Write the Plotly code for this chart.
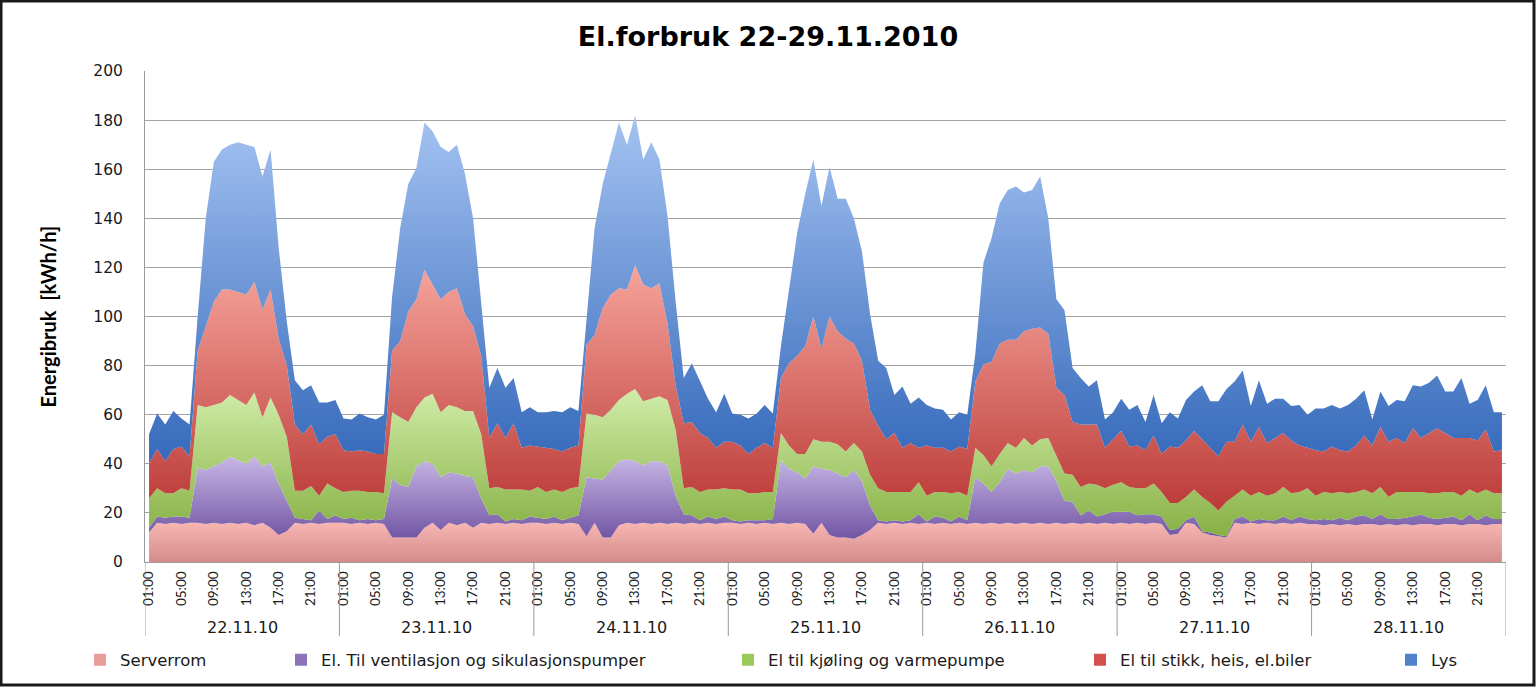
import numpy as np
import plotly.graph_objects as go

# ---------------- data ----------------
days = ["22.11.10", "23.11.10", "24.11.10", "25.11.10", "26.11.10", "27.11.10", "28.11.10"]
tick_hours = ["01:00", "05:00", "09:00", "13:00", "17:00", "21:00"]
series_names = ["Serverrom", "El. Til ventilasjon og sikulasjonspumper",
                "El til kjøling og varmepumpe", "El til stikk, heis, el.biler", "Lys"]

serverrom = [
    12, 16, 15.5, 16, 15.5, 16, 16, 15.5, 16, 15.5, 16, 15.5, 16, 15, 16, 14, 11, 12.5, 16, 15.5, 16, 15.5, 16, 16,
    16, 15.5, 16, 15.5, 16, 15.5, 10, 10, 10, 10, 14, 16, 13, 16, 15, 16, 14, 16, 15.5, 16, 15.5, 16, 15.5, 16,
    16, 15.5, 16, 15.5, 16, 15.5, 10.5, 16, 10, 10, 15, 16, 15.5, 16, 15.5, 16, 15.5, 16, 15.5, 16, 15.5, 16, 15.5, 16,
    16, 15.5, 16, 15.5, 16, 15.5, 16, 15.5, 16, 15.5, 11.5, 16, 11, 10, 10, 9.5, 11, 13, 16, 15.5, 16, 15.5, 16, 15.5,
    16, 15.5, 16, 15.5, 16, 15.5, 16, 15.5, 16, 15.5, 16, 15.5, 16, 15.5, 16, 15.5, 16, 15.5, 16, 15.5, 16, 15.5, 16, 15.5,
    16, 15.5, 16, 15.5, 16, 15.5, 11, 11.5, 16, 15.5, 12, 11, 10.5, 10, 16, 15.5, 16, 15.5, 16, 15.5, 16, 15.5, 16, 15.5,
    15.5, 15, 15.5, 15, 15.5, 15, 15.5, 15.5, 15, 15.5, 15, 15.5, 15, 15.5, 15.5, 15, 15.5, 15.5, 15, 15.5, 15.5, 15, 15.5, 15.5,
]
ventilasjon = [
    2, 2.5, 2.5, 2.5, 3, 2, 22.5, 22, 23, 25, 27, 26, 24, 28, 23, 26.5, 21, 12.5, 2, 2, 1, 5.5, 1.5, 3,
    1.5, 2.5, 1, 2, 1, 2, 24, 21.5, 20.5, 29, 27, 24, 21.5, 20.5, 21, 19, 20.5, 10, 3.5, 3.5, 1, 1.5, 1.5, 2.5,
    2, 2, 2.5, 1.5, 2, 3.5, 24, 18, 23.5, 27.5, 26, 26, 25.5, 23.5, 25.5, 25, 24, 11, 4, 3, 1.5, 2.5, 2, 2.5,
    1, 1, 1, 1.5, 1, 2, 25.5, 22.5, 20.5, 18.5, 27.5, 22, 26.5, 26, 24.5, 28, 22, 10, 1, 1, 1, 1, 1, 4,
    0.5, 3, 2, 1, 2.5, 1.5, 18.5, 16.5, 12.5, 17, 22, 20.5, 21.5, 21, 23, 23.5, 17, 9.5, 8.5, 3.5, 5, 3, 3.5, 5,
    4.5, 5, 3, 4, 3.5, 3, 2, 2, 1, 3, 0.5, 1, 0.5, 0.5, 1.5, 3, 0.5, 2, 1, 1.5, 2.5, 1.5, 2.5, 2,
    1.5, 2.5, 1.5, 3, 1.5, 3.5, 3.5, 2, 4.5, 2, 2.5, 2.5, 3.5, 4, 2.5, 2.5, 2.5, 3, 2, 4, 1.5, 4, 2, 2,
]
kjoling = [
    12, 11.5, 10, 9.5, 11.5, 11, 25.5, 25.5, 25, 24.5, 25, 24.5, 24, 26, 20, 26.5, 28, 26, 11, 11.5, 14, 6, 14.5, 11,
    11, 11, 12, 11, 11.5, 10.5, 27, 27.5, 26.5, 24, 26, 28.5, 26.5, 27.5, 27, 26.5, 27, 26, 11, 11, 13, 12, 12.5, 10.5,
    12.5, 11, 11, 11.5, 12, 11.5, 26, 26, 25.5, 24.5, 25, 26.5, 29.5, 26, 25.5, 26.5, 26.5, 27, 10.5, 11.5, 11.5, 11, 12, 11.5,
    12.5, 13, 11, 11, 11.5, 11, 11, 9.5, 7.5, 10, 11, 11, 11.5, 12, 10.5, 11, 12, 12.5, 13, 12, 11.5, 12, 11.5, 13,
    10.5, 10, 10.5, 11.5, 10, 10, 12, 11.5, 10.5, 11.5, 10.5, 10.5, 13, 11, 11, 11.5, 10.5, 11, 11, 11.5, 11, 13, 10.5, 11,
    12, 10, 11, 10.5, 12.5, 10, 11, 10.5, 9.5, 11, 14, 12, 10, 14, 9.5, 11, 10.5, 11, 10, 11, 12, 11, 10, 12.5,
    10, 11, 11, 10.5, 11, 10, 10.5, 10.5, 11, 9, 11, 10.5, 10, 9, 10, 10.5, 10.5, 10, 10, 10, 11, 10.5, 10.5, 10.5,
]
stikk = [
    14, 16, 13, 18, 17, 14, 22, 33, 42, 46, 43, 44, 45, 45, 44, 44, 31, 29, 27, 23, 25, 21, 19, 22,
    17, 16, 16.5, 16.5, 15.5, 16, 25, 31, 45, 44, 52, 44.5, 46, 46, 48.5, 39.5, 34.5, 32, 20.5, 26, 21, 27, 17, 18.5,
    16.5, 18, 16.5, 16.5, 16.5, 17, 28, 32.5, 44.5, 47, 45.5, 42.5, 50.5, 47.5, 45, 46, 31, 18, 26.5, 26.5, 24, 21, 17, 19,
    19.5, 18, 16, 18.5, 20, 18, 22.5, 33.5, 40, 44, 50, 38, 51, 46, 46, 40.5, 37, 26.5, 25.5, 21.5, 24, 18, 20, 14,
    20.5, 18, 18, 17, 18.5, 19, 27, 37, 42.5, 45, 42, 44, 43.5, 47.5, 45.5, 42.5, 27.5, 32, 21.5, 25.5, 24, 24.5, 16.5, 18.5,
    21, 16.5, 17.5, 15.5, 19.5, 15.5, 23, 22.5, 23, 24, 23.5, 22.5, 22, 24.5, 22, 26.5, 22, 26.5, 21.5, 22.5, 22, 21.5, 19, 16.5,
    18.5, 16.5, 19, 17, 17, 19, 22, 19.5, 24.5, 22.5, 22, 20, 26, 22, 24.5, 26.5, 24, 22, 23.5, 21, 21.5, 24.5, 17, 17.5,
]
lys = [
    12, 14.5, 15, 15.5, 11.5, 13, 14, 44, 57, 57, 59, 61, 61, 55, 54, 57, 37, 18, 18, 18, 16, 17, 14, 14,
    13, 13, 15, 14, 14, 16, 22, 46, 52, 53.5, 60, 62.5, 62, 57, 58.5, 57, 44, 23, 20.5, 22.5, 20.5, 18.5, 14.5, 15.5,
    14, 14.5, 15.5, 16, 16.5, 14, 11.5, 43.5, 50.5, 58, 67.5, 59, 61, 51, 59.5, 50.5, 44, 34, 18.5, 24, 21, 16, 14.5, 19.5,
    11.5, 12.5, 14.5, 14, 15.5, 14, 13, 31, 50, 62, 64, 58, 61, 54, 57, 51, 44.5, 39, 26.5, 29, 15.5, 25, 16, 20.5,
    16.5, 16, 15.5, 13, 14, 14, 11.5, 41.5, 50.5, 57, 61, 62.5, 56.5, 56.5, 61.5, 47, 36, 34.5, 22, 19, 15.5, 18, 11.5, 11,
    13, 15, 16.5, 11.5, 16.5, 12.5, 14, 12, 16.5, 16, 22, 19, 22.5, 21.5, 24.5, 22, 14.5, 19, 16, 16, 14, 14, 16.5, 13.5,
    17, 17.5, 17, 17, 19, 19, 18.5, 10.5, 14.5, 14.5, 15.5, 17, 17.5, 21, 20.5, 21.5, 17, 19, 24.5, 14, 16.5, 18, 16, 15.5,
]

# ---------------- styling ----------------
# (bottom colour, top colour) of each vertical gradient
grad_colors = [
    ("#D48C8A", "#F7B6B3"),
    ("#7155A3", "#C7B7E6"),
    ("#86B044", "#D0EDA9"),
    ("#BB3A37", "#F6A49C"),
    ("#3569BA", "#A5C3F2"),
]
legend_colors = ["#E99D9B", "#8B72B9", "#9CC95B", "#D6504C", "#4F82C9"]
legend_px = [80, 281, 728, 1080, 1391]   # left edge of each legend block (px)

FONT = "Lato"
WIDE = "DejaVu Sans"
W, H = 1536, 687
PL, PR, PT, PB = 145, 1506, 71, 562
pw, ph = PR - PL, PB - PT


def px_x(px):
    return (px - PL) / pw


def px_y(py):
    return (PB - py) / ph


series = [serverrom, ventilasjon, kjoling, stikk, lys]
n = len(serverrom)
x = np.arange(n)
cum = np.cumsum(np.array(series, dtype=float), axis=0)

fig = go.Figure()
lower = np.zeros(n)
for i, (name, vals) in enumerate(zip(series_names, series)):
    top = cum[i]
    fig.add_trace(go.Scatter(
        x=x, y=vals, name=name, stackgroup="one", mode="lines",
        line=dict(width=0), showlegend=False,
        fillcolor=grad_colors[i][0],
        fillgradient=dict(type="vertical",
                          colorscale=[[0, grad_colors[i][0]], [1, grad_colors[i][1]]],
                          start=float(lower.min()), stop=float(top.max())),
        hoverinfo="x+y+name",
    ))
    lower = top

# legend entries (square markers, like the original)
for i, name in enumerate(series_names):
    lg = "legend" if i == 0 else f"legend{i + 1}"
    fig.add_trace(go.Scatter(
        x=[None], y=[None], mode="markers", name=name,
        marker=dict(symbol="square", size=9, color=legend_colors[i]),
        legend=lg, showlegend=True,
    ))

legends = {}
for i in range(len(series_names)):
    lg = "legend" if i == 0 else f"legend{i + 1}"
    legends[lg] = dict(
        xref="container", yref="container",
        x=legend_px[i] / W, xanchor="left", y=1 - 660 / H, yanchor="middle",
        orientation="h", bgcolor="rgba(0,0,0,0)", borderwidth=0,
        font=dict(family=WIDE, size=16.5, color="#1a1a1a"),
        itemsizing="constant",
    )

tickvals = [d * 24 + j * 4 for d in range(len(days)) for j in range(len(tick_hours))]
ticktext = [tick_hours[j] for d in range(len(days)) for j in range(len(tick_hours))]

annotations = [
    dict(text="Energibruk  [kWh/h]", xref="paper", yref="paper", x=px_x(47), y=0.5,
         textangle=-90, showarrow=False, xanchor="center", yanchor="middle",
         font=dict(family=FONT, size=20, color="#000000", weight="bold")),
]
for d, lab in enumerate(days):
    annotations.append(dict(text=lab, xref="x", yref="paper", x=d * 24 + 11.5, y=px_y(627),
                            showarrow=False, xanchor="center", yanchor="middle",
                            font=dict(family=WIDE, size=16, color="#1a1a1a")))

shapes = []
for d in range(len(days) + 1):
    shapes.append(dict(type="line", xref="x", yref="paper", x0=d * 24 - 0.5, x1=d * 24 - 0.5,
                       y0=0, y1=px_y(636), line=dict(color="#9A9A9A", width=1)))
# outer frame of the picture
shapes.append(dict(type="rect", xref="paper", yref="paper",
                   x0=px_x(1), x1=px_x(W - 2), y0=px_y(H - 2), y1=px_y(1),
                   line=dict(color="#1a1a1a", width=3), fillcolor="rgba(0,0,0,0)", layer="above"))

fig.update_layout(
    width=W, height=H, autosize=False,
    margin=dict(l=PL, r=W - PR, t=PT, b=H - PB, autoexpand=False),
    paper_bgcolor="white", plot_bgcolor="white",
    title=dict(text="<b>El.forbruk 22-29.11.2010</b>", x=0.5, xref="container", xanchor="center",
               y=1 - 37 / H, yref="container", yanchor="middle",
               font=dict(family=WIDE, size=27, color="#000000")),
    xaxis=dict(range=[-0.5, n - 0.5], tickvals=tickvals, ticktext=ticktext, tickangle=-90,
               showgrid=False, zeroline=False, showline=True, linecolor="#9A9A9A", linewidth=1,
               ticks="", tickfont=dict(family=FONT, size=13.5, color="#1a1a1a"), ticklabelstandoff=3,
               automargin=False),
    yaxis=dict(range=[0, 200], dtick=20, showgrid=True, gridcolor="#A3A3A3", gridwidth=1,
               zeroline=False, showline=True, linecolor="#9A9A9A", linewidth=1, ticks="",
               tickfont=dict(family=WIDE, size=15.5, color="#1a1a1a"), ticklabelstandoff=18,
               automargin=False),
    annotations=annotations, shapes=shapes,
    **legends,
)

fig.write_html("out.html", config={"displayModeBar": False},
               post_script="document.body.style.margin='0';")
